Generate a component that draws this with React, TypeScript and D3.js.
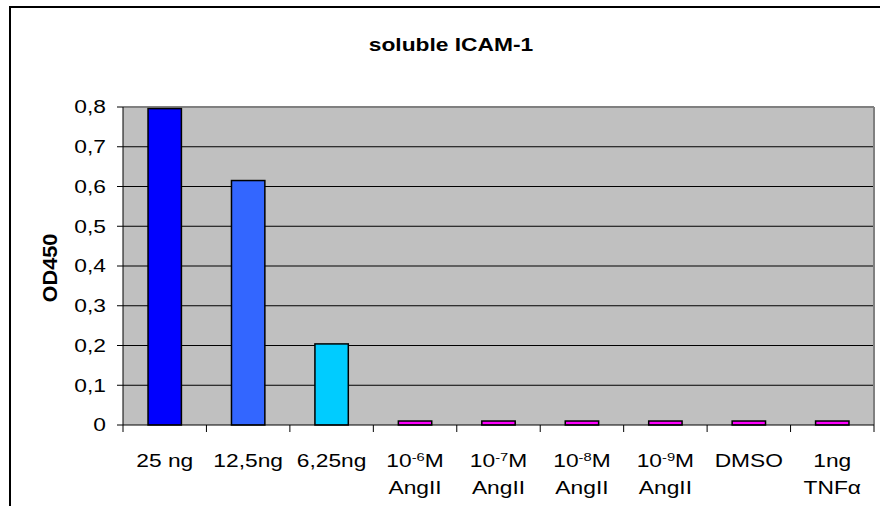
import React from "react";
import * as d3 from "d3";

const categories = ["25 ng", "12,5ng", "6,25ng", "10-6M AngII", "10-7M AngII", "10-8M AngII", "10-9M AngII", "DMSO", "1ng TNFα"];
const values = [0.796, 0.615, 0.204, 0.01, 0.01, 0.01, 0.01, 0.01, 0.01];
const barColors = ["#0000FF", "#3366FF", "#00CCFF", "#FF00FF", "#FF00FF", "#FF00FF", "#FF00FF", "#FF00FF", "#FF00FF"];
const yTicks = [0, 0.1, 0.2, 0.3, 0.4, 0.5, 0.6, 0.7, 0.8];
const labelLine1 = [
  [{ t: "25 ng" }],
  [{ t: "12,5ng" }],
  [{ t: "6,25ng" }],
  [{ t: "10" }, { t: "-6", sup: true }, { t: "M" }],
  [{ t: "10" }, { t: "-7", sup: true }, { t: "M" }],
  [{ t: "10" }, { t: "-8", sup: true }, { t: "M" }],
  [{ t: "10" }, { t: "-9", sup: true }, { t: "M" }],
  [{ t: "DMSO" }],
  [{ t: "1ng" }],
];
const labelLine2 = ["", "", "", "AngII", "AngII", "AngII", "AngII", "", "TNFα"];
const title = "soluble ICAM-1";
const yTitle = "OD450";

const W = 880, H = 506;
const left = 123, right = 874, top = 107, bottom = 425;
const FONT = "'Liberation Sans', Arial, sans-serif";
const FS = 17.8;
const SX = 1.28;

export default function App() {
  const x = d3.scaleBand<number>().domain(d3.range(categories.length)).range([left, right]).padding(0);
  const y = d3.scaleLinear().domain([0, 0.8]).range([bottom, top]);
  const bw = x.bandwidth() * 0.4;
  const fmt = (v: number) => (v === 0 ? "0" : d3.format(".1f")(v).replace(".", ","));
  const boundaries = d3.range(categories.length + 1).map((i) => left + i * x.bandwidth());

  return (
    <svg width={W} height={H} style={{ position: "absolute", left: 0, top: 0, background: "#fff" }} fontFamily={FONT}>
      <rect x={10} y={7} width={1000} height={700} fill="#fff" stroke="#000" strokeWidth={2} />
      <g transform={`translate(451,51) scale(${SX},1)`}>
        <text textAnchor="middle" fontSize={FS} fontWeight="bold" fill="#000">{title}</text>
      </g>
      <text transform="translate(57,268) rotate(-90) scale(1.1,1)" textAnchor="middle" fontSize={19.8} fontWeight="bold" fill="#000">{yTitle}</text>
      <rect x={left} y={top} width={right - left} height={bottom - top} fill="#C0C0C0" />
      {yTicks.filter((t) => t > 0).map((t) => (
        <line key={t} x1={left} x2={right} y1={y(t)} y2={y(t)} stroke={t === 0.8 ? "#808080" : "#000"} strokeWidth={t === 0.8 ? 2 : 1} />
      ))}
      <line x1={right} x2={right} y1={top} y2={bottom} stroke="#808080" strokeWidth={2} />
      {values.map((v, i) => (
        <rect key={i} x={x(i)! + (x.bandwidth() - bw) / 2} y={y(v)} width={bw} height={bottom - y(v)} fill={barColors[i]} stroke="#000" strokeWidth={1.5} />
      ))}
      <line x1={left} x2={left} y1={top} y2={bottom} stroke="#000" strokeWidth={1} />
      <line x1={left} x2={right} y1={bottom} y2={bottom} stroke="#000" strokeWidth={1} />
      {yTicks.map((t) => (
        <g key={t}>
          <line x1={117} x2={left} y1={y(t)} y2={y(t)} stroke="#000" />
          <g transform={`translate(106,${y(t) + 6.4}) scale(${SX},1)`}>
            <text textAnchor="end" fontSize={FS} fill="#000">{fmt(t)}</text>
          </g>
        </g>
      ))}
      {boundaries.map((b, i) => (
        <line key={i} x1={b} x2={b} y1={bottom} y2={bottom + 7} stroke="#000" />
      ))}
      {categories.map((c, i) => {
        const cx = x(i)! + x.bandwidth() / 2;
        return (
          <g key={c}>
            <g transform={`translate(${cx},467) scale(${SX},1)`}>
              <text textAnchor="middle" fontSize={FS} fill="#000">
                {labelLine1[i].map((p: any, j: number) =>
                  p.sup ? (
                    <tspan key={j} fontSize={11.5} dy={-6}>{p.t}</tspan>
                  ) : (
                    <tspan key={j} dy={j > 0 ? 6 : 0}>{p.t}</tspan>
                  )
                )}
              </text>
            </g>
            {labelLine2[i] && (
              <g transform={`translate(${cx},494) scale(${SX},1)`}>
                <text textAnchor="middle" fontSize={FS} fill="#000">{labelLine2[i]}</text>
              </g>
            )}
          </g>
        );
      })}
    </svg>
  );
}
